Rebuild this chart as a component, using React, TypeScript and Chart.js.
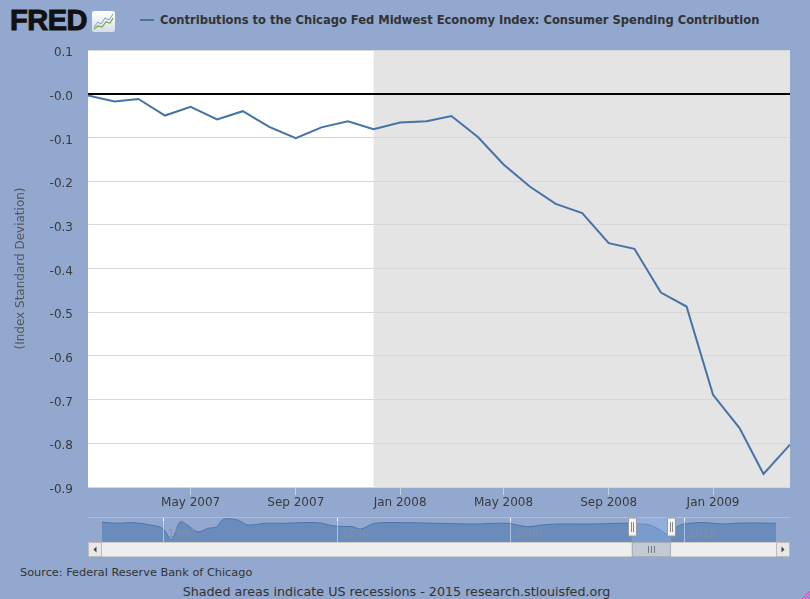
import { useEffect, useRef } from "react";
import { Chart, registerables } from "chart.js";

Chart.register(...registerables);

// monthly observations, Jan 2007 .. Apr 2009
const months = [
  "2007-01", "2007-02", "2007-03", "2007-04", "2007-05", "2007-06", "2007-07",
  "2007-08", "2007-09", "2007-10", "2007-11", "2007-12", "2008-01", "2008-02",
  "2008-03", "2008-04", "2008-05", "2008-06", "2008-07", "2008-08", "2008-09",
  "2008-10", "2008-11", "2008-12", "2009-01", "2009-02", "2009-03", "2009-04",
];
const spending = [
  -0.004, -0.018, -0.012, -0.05, -0.03, -0.059, -0.04,
  -0.076, -0.102, -0.077, -0.063, -0.081, -0.066, -0.063,
  -0.051, -0.099, -0.162, -0.213, -0.252, -0.273, -0.342,
  -0.355, -0.455, -0.487, -0.689, -0.765, -0.87, -0.803,
];
const tickMonths = ["2007-05", "2007-09", "2008-01", "2008-05", "2008-09", "2009-01"];
const tickLabels = ["May 2007", "Sep 2007", "Jan 2008", "May 2008", "Sep 2008", "Jan 2009"];
const yTicks = [0.1, 0, -0.1, -0.2, -0.3, -0.4, -0.5, -0.6, -0.7, -0.8, -0.9];
const recessionStart = "2007-12";
const recessionEnd = "2009-06";

// navigator overview (rough read of the long history)
const navYears = [
  1976.5, 1977.4, 1978.3, 1979.3, 1980.0, 1980.5, 1981.0, 1981.4, 1982.0, 1982.6,
  1983.1, 1983.5, 1984.3, 1984.9, 1985.9, 1987.0, 1988.9, 1989.9, 1990.9, 1991.4,
  1992.2, 1993.8, 1995.7, 1997.9, 1999.8, 2001.0, 2001.8, 2002.7, 2004.6, 2006.6,
  2007.5, 2008.0, 2008.5, 2009.0, 2009.2, 2009.5, 2010.0, 2010.4, 2011.0, 2012.3,
  2013.0, 2014.0, 2015.3,
];
const navValues = [
  0.07, 0.0, 0.04, -0.11, -0.33, -1.04, 0.1, -0.11, -0.55, -0.33,
  -0.22, 0.26, 0.21, -0.11, 0.0, 0.0, 0.04, -0.18, -0.22, -0.37,
  0.0, 0.04, 0.0, -0.05, 0.0, -0.22, -0.11, -0.05, -0.05, 0.0,
  -0.05, -0.1, -0.35, -0.7, -0.87, -0.3, -0.05, 0.0, 0.05, -0.05,
  0.0, 0.02, 0.0,
];
const navDecades = [1980, 1990, 2000, 2010];
const navWindow = [2007.0, 2009.25];

const FONT = "'DejaVu Sans', Verdana, sans-serif";

const toDay = (ym: string) => {
  const [y, m] = ym.split("-").map(Number);
  return (Date.UTC(y, m - 1, 1) - Date.UTC(2007, 0, 1)) / 86400000;
};

const isZero = (v: number) => Math.abs(v) < 1e-9;

const backdrop = {
  id: "backdrop",
  beforeDraw(chart: any) {
    const { ctx, chartArea: a, scales } = chart;
    const x = scales.x;
    ctx.save();
    ctx.fillStyle = "#ffffff";
    ctx.fillRect(a.left, a.top, a.right - a.left, a.bottom - a.top);
    const x0 = Math.max(a.left, x.getPixelForValue(toDay(recessionStart)));
    const x1 = Math.min(a.right, x.getPixelForValue(toDay(recessionEnd)));
    ctx.fillStyle = "#e4e4e4";
    ctx.fillRect(x0, a.top, x1 - x0, a.bottom - a.top);
    ctx.restore();
  },
};

const navExtras = {
  id: "navExtras",
  afterDatasetsDraw(chart: any) {
    const { ctx, chartArea: a, scales, width } = chart;
    const x = scales.x;
    ctx.save();
    // decade lines and labels
    ctx.font = `11px ${FONT}`;
    ctx.textBaseline = "middle";
    navDecades.forEach((yr) => {
      const px = Math.round(x.getPixelForValue(yr)) + 0.5;
      ctx.strokeStyle = "rgba(225,232,245,0.55)";
      ctx.lineWidth = 1;
      ctx.beginPath();
      ctx.moveTo(px, a.top);
      ctx.lineTo(px, a.bottom);
      ctx.stroke();
      ctx.strokeStyle = "#ffffff";
      ctx.beginPath();
      ctx.moveTo(px, a.top);
      ctx.lineTo(px, a.top + 4);
      ctx.stroke();
      ctx.fillStyle = "rgba(130,142,165,0.9)";
      ctx.fillText(String(yr), px + 4, a.top + 17);
    });
    // selected window
    const s0 = x.getPixelForValue(navWindow[0]);
    const s1 = x.getPixelForValue(navWindow[1]);
    ctx.fillStyle = "rgba(150,185,240,0.35)";
    ctx.fillRect(s0, a.top, s1 - s0, a.bottom - a.top);
    // top border
    ctx.strokeStyle = "#b4bccb";
    ctx.beginPath();
    ctx.moveTo(0, 0.5);
    ctx.lineTo(width, 0.5);
    ctx.stroke();
    // scrollbar
    const sy = a.bottom;
    const sh = 15;
    ctx.fillStyle = "#eeeeee";
    ctx.fillRect(0, sy, width, sh);
    ctx.strokeStyle = "#cccccc";
    ctx.strokeRect(0.5, sy + 0.5, width - 1, sh - 1);
    [0, width - 14].forEach((bx, i) => {
      ctx.fillStyle = "#e8e8e8";
      ctx.fillRect(bx, sy, 14, sh);
      ctx.strokeStyle = "#bbbbbb";
      ctx.strokeRect(bx + 0.5, sy + 0.5, 13, sh - 1);
      ctx.fillStyle = "#444";
      ctx.beginPath();
      const cx = bx + 7;
      const cy = sy + 7.5;
      if (i === 0) {
        ctx.moveTo(cx + 1.5, cy - 3);
        ctx.lineTo(cx - 1.5, cy);
        ctx.lineTo(cx + 1.5, cy + 3);
      } else {
        ctx.moveTo(cx - 1.5, cy - 3);
        ctx.lineTo(cx + 1.5, cy);
        ctx.lineTo(cx - 1.5, cy + 3);
      }
      ctx.fill();
    });
    ctx.fillStyle = "#c2cad6";
    ctx.fillRect(s0, sy, s1 - s0, sh);
    ctx.strokeStyle = "#a8adb5";
    ctx.strokeRect(s0 + 0.5, sy + 0.5, s1 - s0 - 1, sh - 1);
    ctx.strokeStyle = "#777";
    const mid = (s0 + s1) / 2;
    [-3, 0, 3].forEach((d) => {
      ctx.beginPath();
      ctx.moveTo(Math.round(mid + d) + 0.5, sy + 4);
      ctx.lineTo(Math.round(mid + d) + 0.5, sy + 11);
      ctx.stroke();
    });
    // handles
    [s0, s1].forEach((hx) => {
      const l = Math.round(hx - 4) + 0.5;
      ctx.fillStyle = "#f4f4f4";
      ctx.fillRect(l, a.top + 1, 8, 18);
      ctx.strokeStyle = "#999";
      ctx.strokeRect(l, a.top + 1, 8, 18);
      ctx.strokeStyle = "#888";
      [3, 5].forEach((d) => {
        ctx.beginPath();
        ctx.moveTo(l + d, a.top + 5);
        ctx.lineTo(l + d, a.top + 15);
        ctx.stroke();
      });
    });
    ctx.restore();
  },
};

const MainChart = () => {
  const chartRef = useRef<HTMLCanvasElement>(null);
  const chartInstanceRef = useRef<Chart>();

  useEffect(() => {
    if (!chartRef.current) return;
    if (chartInstanceRef.current) chartInstanceRef.current.destroy();
    const ctx = chartRef.current.getContext("2d");
    if (!ctx) return;
    chartInstanceRef.current = new Chart(ctx, {
      type: "line",
      data: {
        datasets: [
          {
            label: "Contributions to the Chicago Fed Midwest Economy Index: Consumer Spending Contribution",
            data: months.map((m, i) => ({ x: toDay(m), y: spending[i] })),
            borderColor: "#4572a7",
            borderWidth: 2,
            pointRadius: 0,
            tension: 0,
          },
        ],
      },
      options: {
        animation: false,
        responsive: true,
        maintainAspectRatio: false,
        layout: { padding: { top: 50, right: 20, left: 0, bottom: 0 } },
        plugins: { legend: { display: false }, tooltip: { enabled: false } },
        scales: {
          x: {
            type: "linear",
            min: toDay(months[0]),
            max: toDay(months[months.length - 1]),
            afterBuildTicks: (s: any) => {
              s.ticks = tickMonths.map((m) => ({ value: toDay(m) }));
            },
            afterFit: (s: any) => {
              s.height = 28;
            },
            border: { display: false },
            grid: { drawOnChartArea: false, drawTicks: true, tickLength: 8, tickColor: "#c4d0e4" },
            ticks: {
              autoSkip: false,
              maxRotation: 0,
              padding: 1,
              color: "#3a3a3a",
              font: { family: FONT, size: 12 },
              callback: (_v: any, i: number) => tickLabels[i],
            },
          },
          y: {
            min: -0.9,
            max: 0.1,
            afterBuildTicks: (s: any) => {
              s.ticks = yTicks.map((v) => ({ value: v }));
            },
            afterFit: (s: any) => {
              s.width = 88;
            },
            border: { display: false },
            grid: {
              drawTicks: false,
              color: (c: any) => (isZero(c.tick.value) ? "#000000" : "#d8d8d8"),
              lineWidth: (c: any) => (isZero(c.tick.value) ? 2 : 1),
            },
            ticks: {
              padding: 15,
              labelOffset: 3,
              color: "#3a3a3a",
              font: { family: FONT, size: 12 },
              callback: (v: any) => (isZero(Number(v)) ? "-0.0" : Number(v).toFixed(1)),
            },
            title: {
              display: true,
              text: "(Index Standard Deviation)",
              color: "#555",
              font: { family: FONT, size: 12 },
              padding: { top: 14, bottom: 0 },
            },
          },
        },
      },
      plugins: [backdrop],
    } as any);

    return () => {
      if (chartInstanceRef.current) chartInstanceRef.current.destroy();
    };
  }, []);

  return <canvas ref={chartRef} />;
};

const Navigator = () => {
  const chartRef = useRef<HTMLCanvasElement>(null);
  const chartInstanceRef = useRef<Chart>();

  useEffect(() => {
    if (!chartRef.current) return;
    if (chartInstanceRef.current) chartInstanceRef.current.destroy();
    const ctx = chartRef.current.getContext("2d");
    if (!ctx) return;
    chartInstanceRef.current = new Chart(ctx, {
      type: "line",
      data: {
        datasets: [
          {
            data: navYears.map((yr, i) => ({ x: yr, y: navValues[i] })),
            borderColor: "#4c74aa",
            backgroundColor: "#6a8cbc",
            borderWidth: 1,
            fill: "start",
            pointRadius: 0,
            tension: 0.3,
          },
        ],
      },
      options: {
        animation: false,
        responsive: true,
        maintainAspectRatio: false,
        layout: { padding: { top: 0, right: 14, left: 14, bottom: 15 } },
        plugins: { legend: { display: false }, tooltip: { enabled: false } },
        scales: {
          x: { type: "linear", display: false, min: navYears[0], max: navYears[navYears.length - 1] },
          y: { display: false, min: -1.2, max: 0.4 },
        },
      },
      plugins: [navExtras],
    } as any);

    return () => {
      if (chartInstanceRef.current) chartInstanceRef.current.destroy();
    };
  }, []);

  return <canvas ref={chartRef} />;
};

const App = () => {
  return (
    <div
      style={{
        position: "fixed",
        left: 0,
        top: 0,
        width: 810,
        height: 599,
        background: "#92a8ce",
        overflow: "hidden",
        fontFamily: FONT,
      }}
    >
      <div
        style={{
          position: "absolute",
          left: 10,
          top: 4,
          fontFamily: "'Liberation Sans', Arial, sans-serif",
          fontWeight: 900,
          fontSize: 29,
          color: "#111",
          letterSpacing: -0.5,
          WebkitTextStroke: "1px #111",
        }}
      >
        FRED
      </div>
      <div
        style={{
          position: "absolute",
          left: 92,
          top: 11,
          width: 23,
          height: 21,
          borderRadius: 2,
          background: "linear-gradient(#ffffff, #d8dde4)",
        }}
      >
        <svg width="23" height="21">
          <polyline points="2,16 6,11 9,13 13,7 17,9 21,3" fill="none" stroke="#7c9bc4" strokeWidth="1" />
          <polyline points="2,18 6,15 10,16 14,11 18,12 21,7" fill="none" stroke="#6aa84f" strokeWidth="1.2" />
        </svg>
      </div>
      <div style={{ position: "absolute", left: 140, top: 19, width: 14, height: 2, background: "#4572a7" }} />
      <div
        style={{
          position: "absolute",
          left: 160,
          top: 12,
          fontFamily: "'Liberation Sans Narrow', 'DejaVu Sans Condensed', 'Arial Narrow', sans-serif",
          fontStretch: "condensed",
          fontWeight: "bold",
          fontSize: 12.8,
          color: "#333",
          whiteSpace: "nowrap",
        }}
      >
        Contributions to the Chicago Fed Midwest Economy Index: Consumer Spending Contribution
      </div>
      <div style={{ position: "absolute", left: 0, top: 0, width: 810, height: 515 }}>
        <MainChart />
      </div>
      <div style={{ position: "absolute", left: 88, top: 517, width: 702, height: 40 }}>
        <Navigator />
      </div>
      <div style={{ position: "absolute", left: 20, top: 566, fontSize: 11.3, color: "#333", whiteSpace: "nowrap" }}>
        Source: Federal Reserve Bank of Chicago
      </div>
      <div
        style={{
          position: "absolute",
          left: 0,
          width: 793,
          top: 584,
          textAlign: "center",
          fontSize: 12.7,
          color: "#333",
          whiteSpace: "nowrap",
        }}
      >
        Shaded areas indicate US recessions - 2015 research.stlouisfed.org
      </div>
      <svg style={{ position: "absolute", left: 800, top: 589 }} width="10" height="10">
        <line x1="2" y1="10" x2="10" y2="2" stroke="#e040c0" strokeWidth="1" />
        <line x1="5" y1="10" x2="10" y2="5" stroke="#e040c0" strokeWidth="1" />
        <line x1="8" y1="10" x2="10" y2="8" stroke="#e040c0" strokeWidth="1" />
      </svg>
    </div>
  );
};

export default App;
